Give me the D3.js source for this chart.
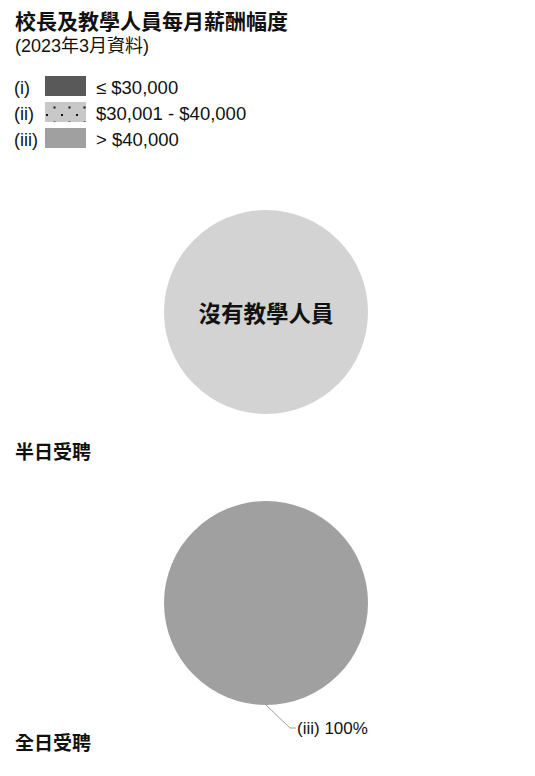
<!DOCTYPE html>
<html>
<head>
<meta charset="utf-8">
<script src="https://cdn.jsdelivr.net/npm/d3@7"></script>
<style>
  body { margin: 0; background: #fff; }
  svg { display: block; }
</style>
</head>
<body>
<div id="chart"></div>
<script>
// salary ranges
let codes = ["(i)", "(ii)", "(iii)"];
let ranges = ["≤ $30,000", "$30,001 - $40,000", "> $40,000"];
let colors = ["#595959", "url(#dots)", "#a0a0a0"];

// percentages per range (half day has no teaching staff)
let halfDay = [];
let fullDay = [0, 0, 100];

let sectionTitles = ["半日受聘", "全日受聘"];

let fontLatin = "'Liberation Sans', Arial, 'Noto Sans CJK TC', sans-serif";

let svg = d3.select("#chart")
  .append("svg")
    .attr("width", 535)
    .attr("height", 776)
    .attr("font-family", fontLatin);

//dotted fill for (ii)
let defs = svg.append("defs");
let pat = defs.append("pattern")
  .attr("id", "dots")
  .attr("patternUnits", "userSpaceOnUse")
  .attr("x", 45).attr("y", 102)
  .attr("width", 15).attr("height", 15);
pat.append("rect").attr("width", 15).attr("height", 15).attr("fill", "#c8c8c8");
pat.append("rect").attr("x", 1).attr("y", 0).attr("width", 2).attr("height", 2).attr("fill", "#111");
pat.append("rect").attr("x", 8.5).attr("y", 7.5).attr("width", 2).attr("height", 2).attr("fill", "#111");

// title
svg.append("text")
  .attr("x", 15).attr("y", 29)
  .attr("font-size", 21).attr("font-weight", "bold")
  .attr("fill", "#111")
  .text("校長及教學人員每月薪酬幅度");
svg.append("text")
  .attr("x", 15).attr("y", 52)
  .attr("font-size", 18)
  .attr("fill", "#111")
  .text("(2023年3月資料)");

// legend
let legend = svg.selectAll(".legend").data(ranges).enter()
  .append("g")
    .attr("class", "legend")
    .attr("transform", (d, i) => "translate(0," + (76 + i * 26) + ")");

legend.append("text")
  .attr("x", 14).attr("y", 17.5)
  .attr("font-size", 18).attr("fill", "#111")
  .text((d, i) => codes[i]);
legend.append("rect")
  .attr("x", 45).attr("y", 0)
  .attr("width", 41).attr("height", 20)
  .attr("fill", (d, i) => colors[i]);
legend.append("text")
  .attr("x", 96).attr("y", 17.5)
  .attr("font-size", 18.5).attr("fill", "#111")
  .text(d => d);

let radius = 102;
let arc = d3.arc().innerRadius(0).outerRadius(radius);
let pie = d3.pie().sort(null).value(d => d);

// half day: no teaching staff
let g1 = svg.append("g").attr("transform", "translate(266,312)");
if (halfDay.length === 0) {
  g1.append("circle").attr("r", radius).attr("fill", "#d3d3d3");
  g1.append("text")
    .attr("text-anchor", "middle").attr("y", 9.5)
    .attr("font-size", 22.5).attr("font-weight", "bold")
    .attr("fill", "#111")
    .text("沒有教學人員");
}

// full day
let g2 = svg.append("g").attr("transform", "translate(266,603)");
let slices = pie(fullDay).filter(d => d.value > 0);
g2.selectAll("path").data(slices).enter()
  .append("path")
    .attr("d", arc)
    .attr("fill", d => colors[d.index]);

//leader line + label
slices.forEach(d => {
  let mid = (d.startAngle + d.endAngle) / 2;
  let p0 = [Math.sin(mid) * radius, -Math.cos(mid) * radius];
  let p1 = [p0[0] + 24, p0[1] + 23];
  let p2 = [p1[0] + 6, p1[1]];
  g2.append("polyline")
    .attr("points", [p0, p1, p2].map(p => p.join(",")).join(" "))
    .attr("fill", "none").attr("stroke", "#a0a0a0").attr("stroke-width", 1);
  g2.append("text")
    .attr("x", p2[0] + 1).attr("y", p2[1] + 6)
    .attr("font-size", 17).attr("fill", "#111")
    .text(codes[d.index] + " " + d.value + "%");
});

// section labels
svg.selectAll(".section").data(sectionTitles).enter()
  .append("text")
    .attr("class", "section")
    .attr("x", 15)
    .attr("y", (d, i) => [459, 750][i])
    .attr("font-size", 19).attr("font-weight", "bold")
    .attr("fill", "#111")
    .text(d => d);
</script>
</body>
</html>
